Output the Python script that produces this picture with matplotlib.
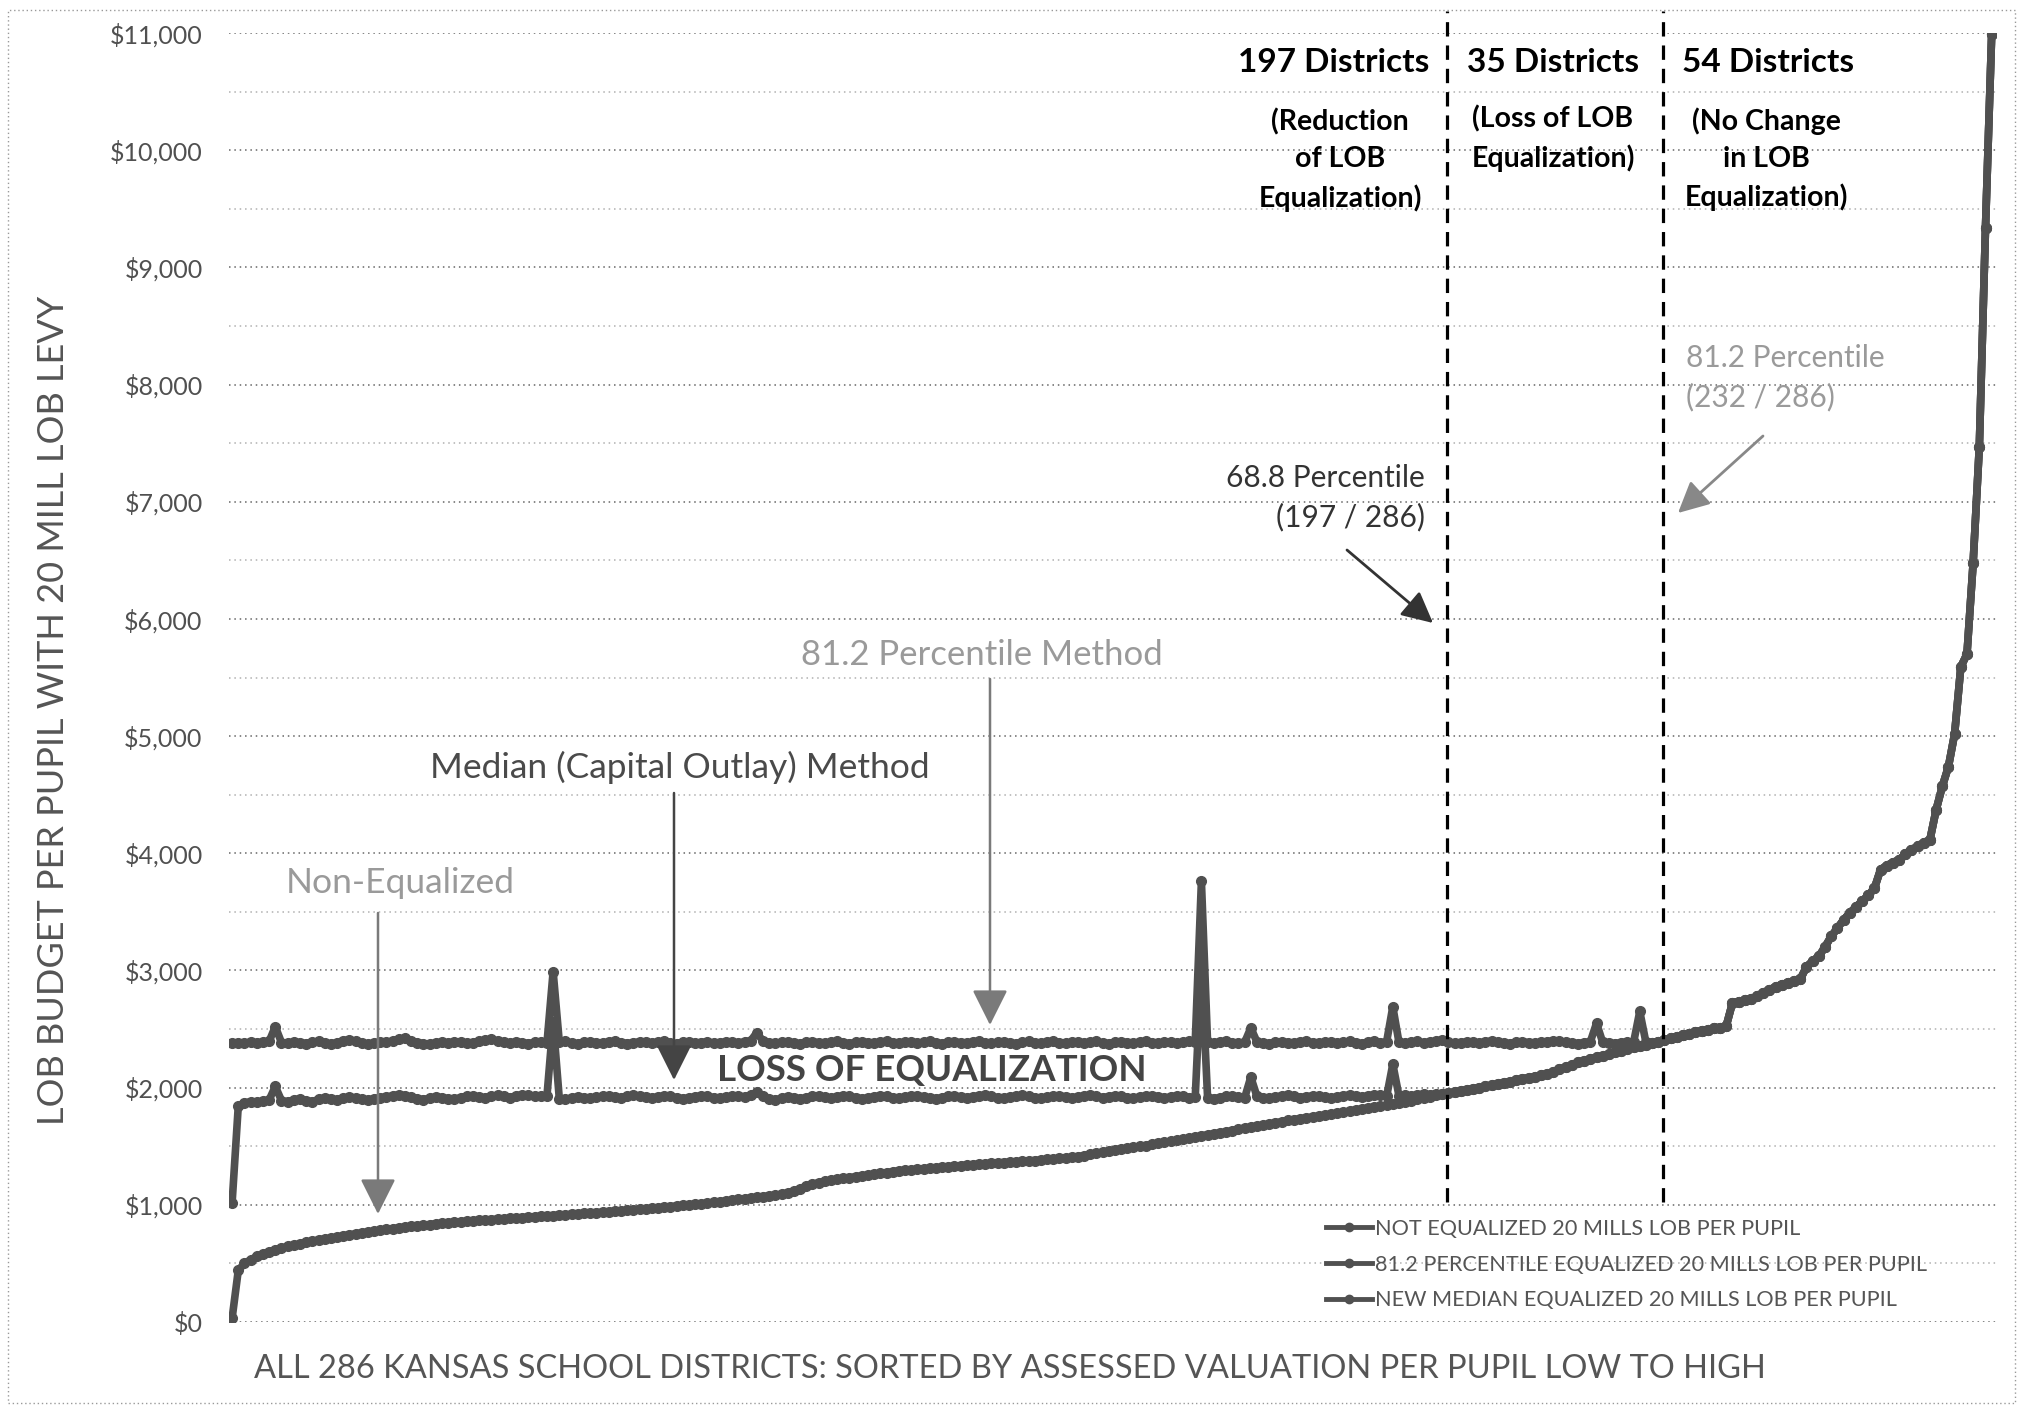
import matplotlib
matplotlib.use('Agg')
import matplotlib.pyplot as plt
from matplotlib.patches import Rectangle, FancyArrowPatch
from matplotlib.ticker import FuncFormatter, MultipleLocator

# ---------------- data ----------------
not_eq = [
    30, 440, 500, 530, 560, 580, 600, 615, 630, 645,
    655, 665, 680, 690, 700, 710, 715, 725, 735, 745,
    752, 760, 768, 775, 782, 790, 797, 803, 810, 815,
    820, 826, 832, 838, 842, 847, 852, 856, 860, 864,
    867, 870, 874, 878, 881, 884, 888, 891, 894, 898,
    902, 905, 908, 912, 915, 919, 922, 926, 930, 934,
    938, 942, 946, 950, 954, 958, 962, 966, 971, 975,
    980, 985, 990, 995, 1000, 1005, 1010, 1015, 1021, 1027,
    1033, 1039, 1046, 1052, 1058, 1064, 1070, 1076, 1082, 1090,
    1102, 1118, 1138, 1158, 1175, 1189, 1200, 1210, 1218, 1225,
    1232, 1240, 1247, 1254, 1261, 1268, 1275, 1283, 1290, 1295,
    1299, 1303, 1308, 1312, 1317, 1321, 1326, 1330, 1335, 1340,
    1343, 1347, 1350, 1354, 1357, 1361, 1364, 1368, 1371, 1375,
    1378, 1383, 1387, 1391, 1396, 1400, 1405, 1412, 1420, 1430,
    1440, 1450, 1460, 1468, 1475, 1483, 1490, 1498, 1506, 1515,
    1525, 1533, 1541, 1550, 1558, 1566, 1575, 1590, 1598, 1606,
    1614, 1622, 1633, 1645, 1655, 1663, 1672, 1680, 1690, 1700,
    1710, 1720, 1728, 1735, 1743, 1750, 1757, 1765, 1773, 1781,
    1790, 1800, 1810, 1818, 1826, 1834, 1842, 1850, 1858, 1867,
    1876, 1888, 1900, 1912, 1922, 1933, 1945, 1955, 1962, 1970,
    1980, 1990, 2000, 2010, 2020, 2030, 2040, 2050, 2062, 2075,
    2085, 2095, 2105, 2118, 2135, 2155, 2175, 2195, 2215, 2230,
    2245, 2258, 2270, 2285, 2300, 2315, 2330, 2345, 2355, 2365,
    2378, 2390, 2405, 2420, 2435, 2450, 2460, 2472, 2485, 2495,
    2505, 2512, 2525, 2720, 2735, 2745, 2755, 2780, 2810, 2835,
    2860, 2880, 2895, 2910, 2925, 3030, 3080, 3120, 3200, 3290,
    3360, 3430, 3490, 3540, 3590, 3640, 3700, 3860, 3895, 3920,
    3945, 3990, 4030, 4060, 4090, 4115, 4370, 4570, 4740, 5020,
    5590, 5700, 6480, 7470, 9340, 10990,
]

# 81.2 percentile equalized: districts 1..232 (rest equal the non-equalized values)
p812_head = [
    2380, 2385, 2378, 2390, 2382, 2388, 2395, 2520, 2385, 2378,
    2390, 2383, 2376, 2388, 2395, 2380, 2372, 2385, 2400, 2410,
    2395, 2380, 2372, 2378, 2390, 2386, 2398, 2412, 2420, 2400,
    2385, 2376, 2370, 2382, 2388, 2380, 2392, 2386, 2378, 2384,
    2396, 2405, 2412, 2398, 2386, 2380, 2390, 2384, 2376, 2386,
    2392, 2380, 2990, 2388, 2395, 2380, 2374, 2386, 2392, 2383,
    2378, 2390, 2396, 2385, 2376, 2382, 2392, 2386, 2380, 2388,
    2394, 2382, 2376, 2386, 2392, 2380, 2385, 2392, 2378, 2384,
    2390, 2386, 2380, 2392, 2400, 2470, 2395, 2384, 2378, 2386,
    2392, 2380, 2374, 2386, 2392, 2384, 2378, 2386, 2394, 2380,
    2376, 2386, 2392, 2384, 2378, 2390, 2396, 2384, 2378, 2388,
    2392, 2380, 2386, 2394, 2382, 2376, 2386, 2392, 2384, 2378,
    2390, 2396, 2384, 2378, 2386, 2392, 2380, 2374, 2386, 2394,
    2384, 2378, 2390, 2396, 2384, 2378, 2386, 2392, 2380, 2386,
    2394, 2382, 2376, 2386, 2392, 2384, 2378, 2390, 2396, 2384,
    2378, 2386, 2392, 2380, 2386, 2394, 2390, 3760, 2386, 2378,
    2390, 2396, 2384, 2378, 2386, 2510, 2390, 2380, 2376, 2386,
    2392, 2384, 2378, 2390, 2396, 2384, 2378, 2386, 2392, 2380,
    2386, 2394, 2382, 2376, 2390, 2398, 2384, 2392, 2690, 2386,
    2378, 2386, 2394, 2382, 2390, 2396, 2410, 2386, 2378, 2384,
    2390, 2386, 2380, 2392, 2398, 2388, 2380, 2376, 2386, 2392,
    2384, 2378, 2386, 2392, 2400, 2395, 2386, 2380, 2376, 2384,
    2392, 2550, 2386, 2380, 2376, 2384, 2392, 2386, 2650, 2386,
    2380, 2390,
]

# new median equalized: districts 1..197 (rest equal the non-equalized values)
median_head = [
    1015, 1840, 1870, 1880, 1875, 1885, 1895, 2010, 1890, 1880,
    1895, 1905, 1890, 1880, 1900, 1912, 1905, 1895, 1910, 1920,
    1912, 1900, 1895, 1905, 1915, 1920, 1930, 1940, 1932, 1918,
    1905, 1898, 1910, 1920, 1915, 1905, 1900, 1915, 1925, 1930,
    1920, 1912, 1925, 1935, 1928, 1915, 1930, 1940, 1935, 1925,
    1932, 1930, 2560, 1905, 1900, 1912, 1920, 1915, 1908, 1918,
    1925, 1930, 1920, 1912, 1925, 1935, 1930, 1918, 1910, 1922,
    1930, 1925, 1915, 1905, 1912, 1922, 1930, 1925, 1915, 1908,
    1918, 1925, 1930, 1920, 1935, 1960, 1925, 1900, 1895, 1910,
    1920, 1915, 1905, 1912, 1925, 1930, 1918, 1910, 1922, 1930,
    1925, 1915, 1905, 1912, 1922, 1930, 1925, 1915, 1908, 1918,
    1925, 1932, 1920, 1912, 1905, 1915, 1925, 1930, 1920, 1912,
    1922, 1930, 1935, 1925, 1915, 1910, 1920, 1928, 1935, 1925,
    1915, 1908, 1918, 1925, 1930, 1922, 1912, 1920, 1930, 1935,
    1925, 1915, 1922, 1930, 1925, 1915, 1910, 1920, 1928, 1932,
    1922, 1912, 1920, 1930, 1925, 1915, 1920, 3050, 1915, 1905,
    1915, 1925, 1930, 1920, 1912, 2090, 1925, 1915, 1910, 1920,
    1930, 1935, 1925, 1915, 1922, 1930, 1925, 1918, 1910, 1920,
    1930, 1938, 1925, 1918, 1930, 1940, 1935, 1925, 2200, 1930,
    1935, 1928, 1940, 1945, 1938, 1948, 1945,
]

districts = list(range(1, 287))
p812_eq = p812_head + not_eq[232:]
median_eq = median_head + not_eq[197:]

series_labels = [
    "NOT EQUALIZED 20 MILLS LOB PER PUPIL",
    "81.2 PERCENTILE EQUALIZED 20 MILLS LOB PER PUPIL",
    "NEW MEDIAN EQUALIZED 20 MILLS LOB PER PUPIL",
]
boundaries = [197.7, 232.8]

# ---------------- style ----------------
plt.rcParams['font.family'] = ['Lato', 'DejaVu Sans']
W, H = 2021, 1409
fig = plt.figure(figsize=(W / 100, H / 100), dpi=100)
fig.patch.set_facecolor('white')


def fx(x):
    return x / W


def fy(y):
    return 1 - y / H


ax = fig.add_axes([fx(229), fy(1322), (1996 - 229) / W, (1322 - 33) / H])
ax.set_xlim(0.5, 286.7)
ax.set_ylim(0, 11000)
for s in ax.spines.values():
    s.set_visible(False)
ax.set_xticks([])
ax.yaxis.set_major_locator(MultipleLocator(1000))
ax.yaxis.set_minor_locator(MultipleLocator(500))
ax.yaxis.set_major_formatter(FuncFormatter(lambda v, p: f"${v:,.0f}"))
ax.tick_params(axis='y', which='both', length=0, pad=19, labelsize=18, labelcolor='#505050')
ax.grid(which='major', axis='y', linestyle=(0, (1, 2.5)), color='#666666', linewidth=1.1, zorder=0)
ax.grid(which='minor', axis='y', linestyle=(0, (1, 2.5)), color='#b0b0b0', linewidth=1.1, zorder=0)

LINE = '#505050'
ax.plot(districts, not_eq, color=LINE, lw=5.5, marker='o', ms=7, zorder=3, label=series_labels[0])
ax.plot(districts, p812_eq, color=LINE, lw=5.5, marker='o', ms=7, zorder=4, label=series_labels[1])
ax.plot(districts, median_eq, color=LINE, lw=5.5, marker='o', ms=7, zorder=5, label=series_labels[2])

for b in boundaries:
    ax.plot([b, b], [1020, 11190], color='black', lw=2.3, dashes=(4.5, 2.8), clip_on=False, zorder=6)

leg = ax.legend(loc='upper left', bbox_to_anchor=(fx(1326), fy(1219)), bbox_transform=fig.transFigure,
                frameon=False, fontsize=15.6, handlelength=2.1, handletextpad=0.15,
                labelspacing=0.72, borderpad=0, borderaxespad=0)
for t in leg.get_texts():
    t.set_color('#555555')
for h in leg.get_lines():
    h.set_linewidth(3.5)
    h.set_markersize(6)

# ---------------- texts ----------------
for txt, x in [("197 Districts", 1334), ("35 Districts", 1553), ("54 Districts", 1768)]:
    fig.text(fx(x), fy(62), txt, ha='center', va='center', fontsize=24, fontweight='bold', color='black')

fig.text(fx(1340), fy(160), "(Reduction\nof LOB\nEqualization)", ha='center', va='center',
         multialignment='center', fontsize=20.5, fontweight='bold', linespacing=1.52)
fig.text(fx(1553), fy(139), "(Loss of LOB\nEqualization)", ha='center', va='center',
         multialignment='center', fontsize=20.5, fontweight='bold', linespacing=1.52)
fig.text(fx(1766), fy(159), "(No Change\nin LOB\nEqualization)", ha='center', va='center',
         multialignment='center', fontsize=20.5, fontweight='bold', linespacing=1.52)

fig.text(fx(1425), fy(498), "68.8 Percentile\n(197 / 286)", ha='right', va='center',
         multialignment='right', fontsize=21.5, color='#333333', linespacing=1.45)
fig.text(fx(1686), fy(378), "81.2 Percentile\n(232 / 286)", ha='left', va='center',
         multialignment='left', fontsize=21.5, color='#9a9a9a', linespacing=1.45)

fig.text(fx(982), fy(655), "81.2 Percentile Method", ha='center', va='center', fontsize=25, color='#9a9a9a')
fig.text(fx(680), fy(767), "Median (Capital Outlay) Method", ha='center', va='center', fontsize=25.5,
         color='#4a4a4a')
fig.text(fx(400), fy(883), "Non-Equalized", ha='center', va='center', fontsize=25.5, color='#9a9a9a')
fig.text(fx(932), fy(1071), "LOSS OF EQUALIZATION", ha='center', va='center', fontsize=26.5,
         fontweight='bold', color='#444444', zorder=10)

fig.text(fx(1010), fy(1369), "ALL 286 KANSAS SCHOOL DISTRICTS: SORTED BY ASSESSED VALUATION PER PUPIL LOW TO HIGH",
         ha='center', va='center', fontsize=23.5, color='#555555')
fig.text(fx(54), fy(710), "LOB BUDGET PER PUPIL WITH 20 MILL LOB LEVY", ha='center', va='center',
         rotation=90, fontsize=26, color='#555555')


def arrow(x1, y1, x2, y2, color, lw=1.8, scale=22):
    fig.add_artist(FancyArrowPatch(
        (fx(x1), fy(y1)), (fx(x2), fy(y2)), transform=fig.transFigure,
        arrowstyle='-|>,head_length=1.0,head_width=0.5', mutation_scale=scale,
        color=color, lw=lw, shrinkA=0, shrinkB=0, zorder=12))


arrow(1347, 550, 1433, 623, '#333333', 2.0, 19)
arrow(1763, 436, 1678, 513, '#888888', 2.0, 19)
arrow(990, 679, 990, 1025, '#7a7a7a')
arrow(674, 793, 674, 1080, '#444444')
arrow(378, 913, 378, 1214, '#7a7a7a')

fig.add_artist(Rectangle((fx(8), fy(1403)), (2015 - 8) / W, (1403 - 10) / H, transform=fig.transFigure,
                         fill=False, ec='#999999', lw=1, ls=(0, (1, 2))))

fig.savefig('out.png', dpi=100, facecolor='white')
